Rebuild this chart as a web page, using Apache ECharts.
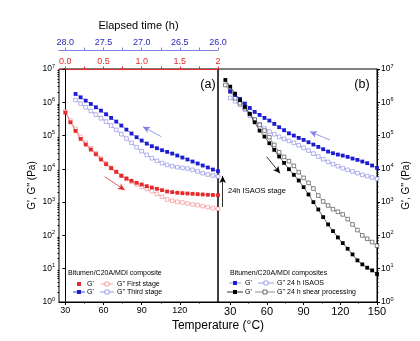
<!DOCTYPE html>
<html>
<head>
<meta charset="utf-8">
<script src="https://cdn.jsdelivr.net/npm/echarts@6/dist/echarts.min.js"></script>
<style>
  html, body { margin: 0; padding: 0; background: #fff; }
  #chart { width: 420px; height: 341px; }
</style>
</head>
<body>
<div id="chart"></div>
<script>
// temperatures (°C) of panel (a) and panel (b)
const tempA = [30, 34, 38, 42, 46, 50, 54, 58, 62, 66, 70, 74, 78, 82, 86, 90, 94, 98, 102, 106, 110, 114, 118, 122, 126, 130, 134, 138, 142, 146, 150]
const tempB = [26, 30, 34, 38, 42, 46, 50, 54, 58, 62, 66, 70, 74, 78, 82, 86, 90, 94, 98, 102, 106, 110, 114, 118, 122, 126, 130, 134, 138, 142, 146, 150]

// (a) first stage (Pa)
const firstG1 = [4.9e5, 2.51e5, 1.38e5, 7.94e4, 5.37e4, 3.8e4, 2.75e4, 1.91e4, 1.38e4, 1.05e4, 8.13e3, 6.17e3, 5.13e3, 4.37e3, 3.8e3, 3.39e3, 3.02e3, 2.75e3, 2.51e3, 2.29e3, 2.09e3, 2.0e3, 1.91e3, 1.86e3, 1.82e3, 1.78e3, 1.74e3, 1.7e3, 1.66e3, 1.64e3, 1.62e3]
const firstG2 = [5.25e5, 2.82e5, 1.58e5, 9.12e4, 6.03e4, 4.17e4, 2.95e4, 2.04e4, 1.45e4, 1.07e4, 8.13e3, 6.31e3, 5.01e3, 4.07e3, 3.39e3, 2.88e3, 2.51e3, 2.14e3, 1.78e3, 1.45e3, 1.2e3, 1.1e3, 1.02e3, 977, 912, 851, 813, 759, 708, 661, 631]
// (a) third stage (Pa)
const thirdG1 = [null, null, 1.78e6, 1.41e6, 1.12e6, 8.91e5, 7.08e5, 5.62e5, 4.37e5, 3.39e5, 2.63e5, 2.0e5, 1.51e5, 1.15e5, 8.91e4, 7.08e4, 5.75e4, 4.79e4, 4.17e4, 3.63e4, 3.24e4, 2.88e4, 2.51e4, 2.19e4, 1.91e4, 1.66e4, 1.45e4, 1.26e4, 1.1e4, 9.55e3, 8.51e3]
const thirdG2 = [null, null, 1.17e6, 9.12e5, 7.08e5, 5.5e5, 4.27e5, 3.31e5, 2.63e5, 2.0e5, 1.48e5, 1.1e5, 8.13e4, 6.03e4, 4.47e4, 3.39e4, 2.63e4, 2.09e4, 1.74e4, 1.48e4, 1.32e4, 1.2e4, 1.12e4, 1.07e4, 1.02e4, 9.33e3, 8.32e3, 7.41e3, 6.76e3, 6.31e3, 5.89e3]
// (b) 24 h ISAOS (Pa)
const isaosG1 = [null, 2.14e6, 1.66e6, 1.26e6, 9.12e5, 6.76e5, 5.13e5, 4.17e5, 3.39e5, 2.82e5, 2.24e5, 1.78e5, 1.45e5, 1.17e5, 1.0e5, 8.51e4, 7.41e4, 6.31e4, 5.37e4, 4.57e4, 3.89e4, 3.31e4, 2.95e4, 2.69e4, 2.51e4, 2.29e4, 2.04e4, 1.86e4, 1.66e4, 1.48e4, 1.26e4, 1.07e4]
const isaosG2 = [null, 1.35e6, 1.07e6, 8.32e5, 6.03e5, 3.98e5, 2.95e5, 2.19e5, 1.62e5, 1.32e5, 1.1e5, 9.12e4, 7.94e4, 6.92e4, 6.03e4, 5.13e4, 4.27e4, 3.55e4, 2.88e4, 2.34e4, 1.95e4, 1.62e4, 1.38e4, 1.2e4, 1.05e4, 9.33e3, 8.32e3, 7.41e3, 6.61e3, 6.03e3, 5.5e3, 5.01e3]
// (b) 24 h shear processing (Pa)
const shearG1 = [4.68e6, 2.95e6, 1.82e6, 1.15e6, 7.24e5, 4.47e5, 2.51e5, 1.41e5, 9.33e4, 5.89e4, 3.72e4, 2.34e4, 1.51e4, 9.77e3, 6.61e3, 4.47e3, 2.82e3, 1.7e3, 1.0e3, 603, 355, 214, 135, 87.1, 58.9, 39.8, 26.9, 17.8, 13.5, 10.7, 8.91, 6.92]
const shearG2 = [3.31e6, 2.09e6, 1.32e6, 9.33e5, 6.61e5, 4.47e5, 3.02e5, 2.09e5, 1.41e5, 8.91e4, 5.25e4, 3.16e4, 2.29e4, 1.7e4, 1.23e4, 7.94e3, 5.37e3, 3.8e3, 2.57e3, 1.58e3, 1.05e3, 794, 617, 513, 427, 309, 214, 145, 100, 79.4, 63.1, 49.0]

// tick labels
const tempTicksA = [30, 60, 90, 120]
const tempTicksB = [30, 60, 90, 120, 150]
const tempMinor = [45, 75, 105, 135]
const timeTicks = [0, 0.5, 1, 1.5, 2]
const timeMinor = [0, 0.25, 0.5, 0.75, 1, 1.25, 1.5, 1.75, 2]
const elapsedTicks = [26, 26.5, 27, 27.5, 28]
const elapsedMinor = [26, 26.25, 26.5, 26.75, 27, 27.25, 27.5, 27.75, 28]

const RED = '#e42a2a'
const PINK = '#f08585'
const BLUE = '#1c1cd2'
const LBLUE = '#8282e2'
const FONT = '"Liberation Sans", Arial, sans-serif'

const pairs = (xs, ys) => xs.map((x, i) => [x, ys[i]])

// minor log ticks (2..9 per decade) on a linear 0..7 helper axis
const logMinor = []
for (let d = 0; d < 7; d++) {
  for (let k = 2; k <= 9; k++) logMinor.push(d + Math.log10(k))
}

const powLabel = (v) => '{b|10}{s|' + Math.round(Math.log10(v)) + '}'
const powRich = {
  b: { fontSize: 8.5, color: '#000', fontFamily: FONT },
  s: { fontSize: 5.5, color: '#000', fontFamily: FONT, verticalAlign: 'top', padding: [0, 0, 6, 0] }
}

const logAxis = (grid, pos, name, gap) => ({
  type: 'log', logBase: 10, gridIndex: grid, position: pos, min: 1, max: 1e7, interval: 1,
  name, nameLocation: 'middle', nameRotate: 90, nameGap: gap,
  nameTextStyle: { fontSize: 10, color: '#000', fontFamily: FONT },
  axisLine: { show: true, lineStyle: { color: '#000', width: 1 } },
  axisTick: { show: true, length: 3, lineStyle: { color: '#000' } },
  axisLabel: { formatter: powLabel, rich: powRich, margin: 4 },
  splitLine: { show: false }
})
const minorY = (grid, pos) => ({
  type: 'value', gridIndex: grid, position: pos, min: 0, max: 7,
  axisLine: { show: false },
  axisTick: { show: true, length: 1.5, customValues: logMinor, lineStyle: { color: '#000' } },
  axisLabel: { show: false }, splitLine: { show: false }
})
const tempAxis = (grid, min, ticks, size) => ({
  type: 'value', gridIndex: grid, position: 'bottom', min, max: 150,
  axisLine: { show: true, lineStyle: { color: '#000' } },
  axisTick: { show: true, length: 3, customValues: ticks, lineStyle: { color: '#000' } },
  axisLabel: { customValues: ticks, fontSize: size, color: '#000', margin: 4, fontFamily: FONT },
  splitLine: { show: false }
})
const minorX = (grid, min) => ({
  type: 'value', gridIndex: grid, position: 'bottom', min, max: 150,
  axisLine: { show: false },
  axisTick: { show: true, length: 1.5, customValues: tempMinor, lineStyle: { color: '#000' } },
  axisLabel: { show: false }, splitLine: { show: false }
})

const sym = (color, open) => open
  ? { color: '#fff', borderColor: color, borderWidth: 0.6 }
  : { color: color, borderColor: color, borderWidth: 0 }

const curve = (name, grid, xs, ys, color, open, lineColor, lineW) => ({
  name, type: 'line',
  xAxisIndex: grid === 0 ? 0 : 4,
  yAxisIndex: grid === 0 ? 0 : 2,
  data: pairs(xs, ys),
  symbol: 'rect', symbolSize: open ? 3.6 : 3.8, showSymbol: true,
  itemStyle: sym(color, open),
  lineStyle: { color: lineColor || color, width: lineW },
  emphasis: { disabled: true },
  z: open ? 3 : 4
})

// arrows drawn in data coordinates
const arrow = (from, to, color) => [
  { coord: from, lineStyle: { color, width: 0.8, type: 'solid' } },
  { coord: to }
]
const arrowSeries = (grid, lines) => ({
  type: 'line', xAxisIndex: grid === 0 ? 0 : 4, yAxisIndex: grid === 0 ? 0 : 2, data: [],
  markLine: {
    silent: true, symbol: ['none', 'arrow'], symbolSize: [5, 7],
    label: { show: false }, animation: false, data: lines
  }
})

// legend & annotation helpers (graphic)
const sq = (cx, cy, color, open) => ({
  type: 'rect', shape: { x: cx - 2, y: cy - 2, width: 4, height: 4 },
  style: open ? { fill: '#fff', stroke: color, lineWidth: 0.7 } : { fill: color }
})
const seg = (x1, x2, y, color) => ({
  type: 'line', shape: { x1, y1: y, x2, y2: y }, style: { stroke: color, lineWidth: 0.8 }
})
const txt = (x, y, text, size, align) => ({
  type: 'text', x, y,
  style: { text, fontSize: size, fontFamily: FONT, fill: '#000', textAlign: align || 'left', textVerticalAlign: 'middle' }
})

const chart = echarts.init(document.getElementById('chart'), null, { renderer: 'canvas' })
chart.setOption({
  animation: false,
  textStyle: { fontFamily: FONT },
  grid: [
    { left: 59, top: 69, width: 159, height: 233, show: true, borderColor: '#000', borderWidth: 1, backgroundColor: 'transparent' },
    { left: 218, top: 69, width: 159, height: 233, show: true, borderColor: '#000', borderWidth: 1, backgroundColor: 'transparent' }
  ],
  xAxis: [
    tempAxis(0, 25, tempTicksA, 9),
    minorX(0, 25),
    {
      type: 'value', gridIndex: 0, position: 'top', min: -1 / 12, max: 2,
      axisLine: { show: true, lineStyle: { color: RED } },
      axisTick: { show: true, length: 2.5, customValues: timeMinor, lineStyle: { color: RED } },
      axisLabel: { customValues: timeTicks, fontSize: 9, color: RED, margin: 3, fontFamily: FONT,
        formatter: (v) => (v === 2 ? '2' : v.toFixed(1)) },
      splitLine: { show: false }
    },
    {
      type: 'value', gridIndex: 0, position: 'top', offset: 19, inverse: true, min: 26, max: 26 + 25 / 12,
      name: 'Elapsed time (h)', nameLocation: 'middle', nameGap: 19,
      nameTextStyle: { fontSize: 11, color: '#000', fontFamily: FONT },
      axisLine: { show: true, lineStyle: { color: LBLUE } },
      axisTick: { show: true, length: 2.5, customValues: elapsedMinor, lineStyle: { color: LBLUE } },
      axisLabel: { customValues: elapsedTicks, fontSize: 9, color: '#2a2ab8', margin: 3, fontFamily: FONT,
        formatter: (v) => v.toFixed(1) },
      splitLine: { show: false }
    },
    tempAxis(1, 20, tempTicksB, 11),
    minorX(1, 20)
  ],
  yAxis: [
    logAxis(0, 'left', "G', G'' (Pa)", 22),
    minorY(0, 'left'),
    logAxis(1, 'right', "G', G'' (Pa)", 24),
    minorY(1, 'right')
  ],
  series: [
    curve("G'' First stage", 0, tempA, firstG2, PINK, true, PINK, 0.7),
    curve("G' First stage", 0, tempA, firstG1, RED, false, RED, 0.5),
    curve("G'' Third stage", 0, tempA, thirdG2, LBLUE, true, LBLUE, 0.7),
    curve("G' Third stage", 0, tempA, thirdG1, BLUE, false, BLUE, 0.5),
    curve("G'' 24 h ISAOS", 1, tempB, isaosG2, LBLUE, true, LBLUE, 0.7),
    curve("G' 24 h ISAOS", 1, tempB, isaosG1, BLUE, false, BLUE, 0.5),
    curve("G'' 24 h shear processing", 1, tempB, shearG2, '#333', true, '#777', 0.7),
    curve("G' 24 h shear processing", 1, tempB, shearG1, '#000', false, '#000', 0.6),
    arrowSeries(0, [
      arrow([105.4, 9.25e4], [91, 1.85e5], LBLUE),
      arrow([61, 5.8e3], [76.7, 2.31e3], RED)
    ]),
    arrowSeries(1, [
      arrow([111.6, 7.35e4], [95.2, 1.31e5], LBLUE),
      arrow([59.8, 2.32e4], [70.7, 7.35e3], '#000'),
      arrow([23.8, 714], [23.8, 6.1e3], '#000')
    ])
  ],
  graphic: [
    txt(208, 85, '(a)', 12.5, 'center'),
    txt(362, 85, '(b)', 12.5, 'center'),
    txt(228, 191, '24h ISAOS stage', 7.5),
    txt(218, 326, 'Temperature (°C)', 12, 'center'),
    // legend (a)
    txt(68, 273, 'Bitumen/C20A/MDI composite', 7),
    sq(79, 284, RED), txt(87, 284, "G'", 7),
    seg(101, 113, 284, PINK), sq(107, 284, PINK, true), txt(117, 284, "G'' First stage", 7),
    seg(73, 85, 292, BLUE), sq(79, 292, BLUE), txt(87, 292, "G'", 7),
    seg(100, 114, 292, LBLUE), sq(107, 292, LBLUE, true), txt(117, 292, "G'' Third stage", 7),
    // legend (b)
    txt(230, 273, 'Bitumen/C20A/MDI composites', 7),
    seg(229, 241, 283, LBLUE), sq(235, 283, BLUE), txt(245, 283, "G'", 7),
    seg(258, 274, 283, LBLUE), sq(266, 283, LBLUE, true), txt(277, 283, "G'' 24 h ISAOS", 7),
    seg(227, 243, 292, '#000'), sq(235, 292, '#000'), txt(245, 292, "G'", 7),
    seg(255, 275, 292, '#777'), sq(265, 292, '#333', true), txt(277, 292, "G'' 24 h shear processing", 7)
  ]
})
</script>
</body>
</html>
